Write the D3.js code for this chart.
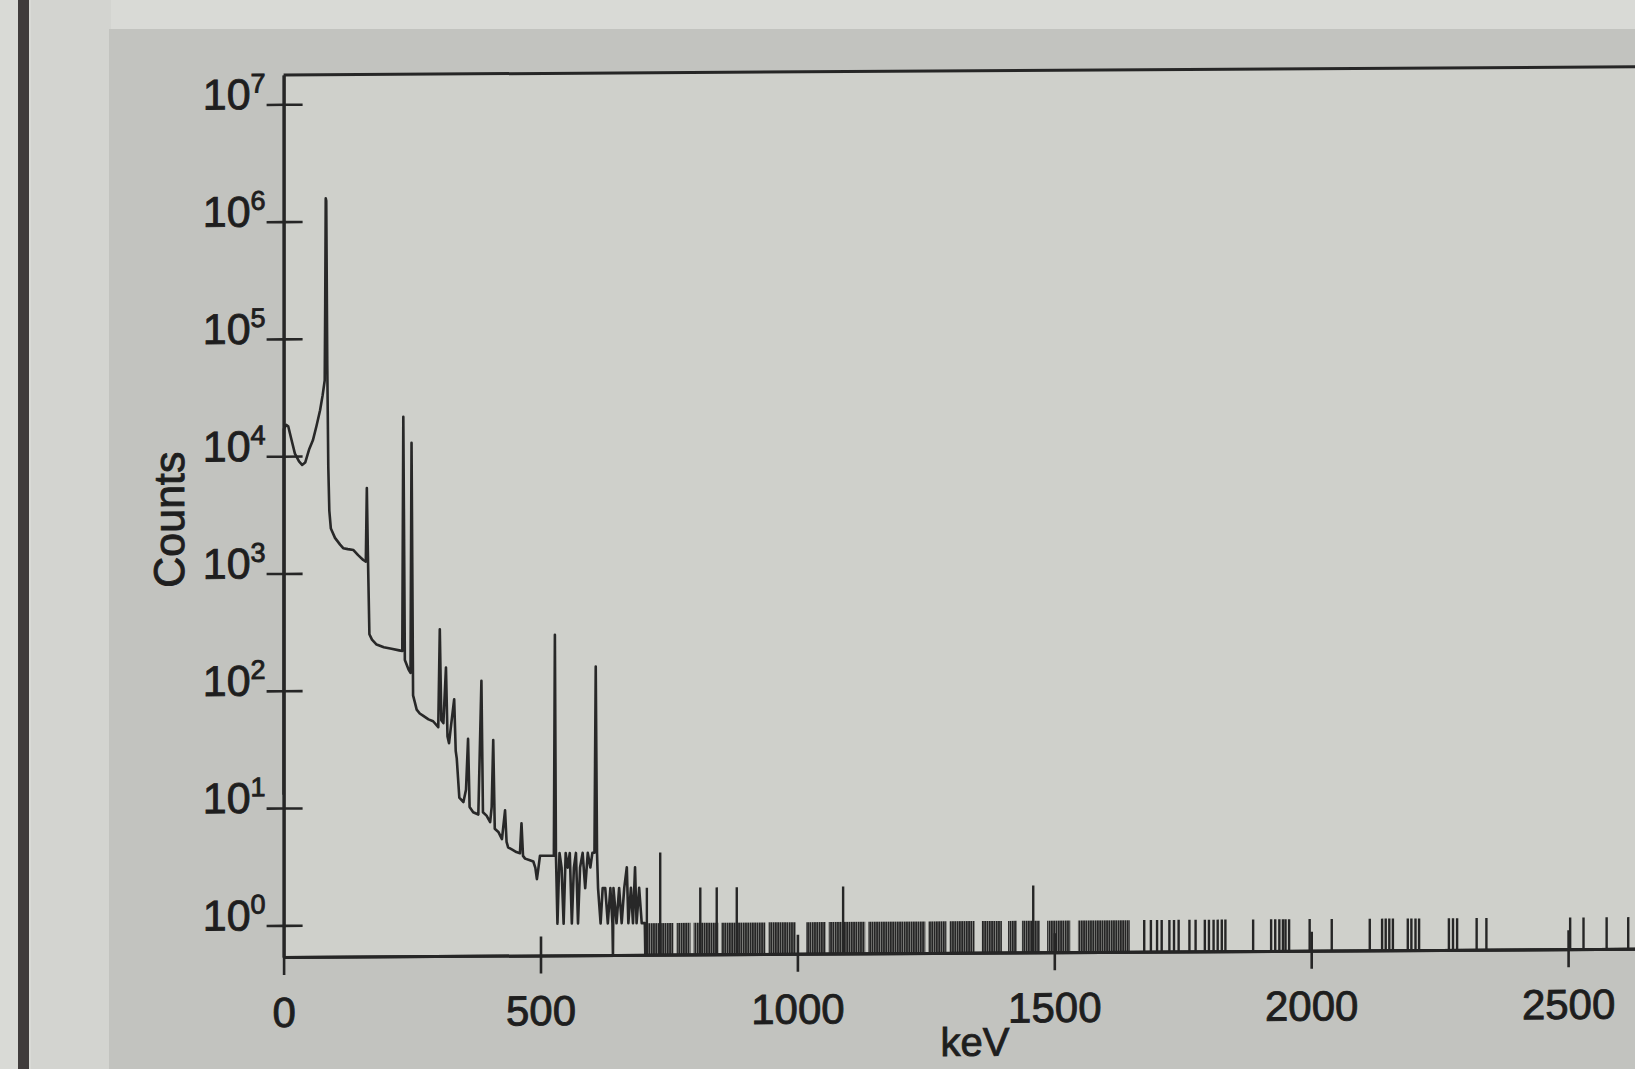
<!DOCTYPE html>
<html><head><meta charset="utf-8">
<script src="https://cdn.jsdelivr.net/npm/d3@7"></script>
<style>
html,body{margin:0;padding:0;background:#d9dad6;overflow:hidden}
text{font-family:"Liberation Sans",Arial,Helvetica,sans-serif;fill:#1e1e1e}
</style>
</head><body>
<svg id="c" width="1635" height="1069"></svg>
<script>
// ---------------- DATA ----------------
const xTickValues = [0, 500, 1000, 1500, 2000, 2500];
const yTickExponents = [0, 1, 2, 3, 4, 5, 6, 7];
const xTitle = "keV";
const yTitle = "Counts";

// Low-energy part of the spectrum: [keV, counts]
const spectrum = [
  [0,13],[0.5,17000],[5,18500],[9,18000],[15,14000],[22,10500],[30,9000],[36,8400],[42,8800],
  [50,11500],[57,13600],[64,18000],[71,24500],[76,33000],[80,44000],[81,200000],[82,1570000],
  [83,1500000],[85,60000],[87,8000],[89,3400],[92,2400],[100,2000],[110,1750],[116,1630],
  [125,1600],[136,1570],[145,1420],[155,1290],[160,1250],[162,5300],[164,1500],[167,300],
  [172,270],[181,245],[195,232],[210,225],[225,218],[231,215],[233,21400],[236,180],[243,150],
  [247,140],[249,12800],[252,90],[255,80],[259,68],[265,63],[272,60],[282,56],[291,54],[301,48],
  [304,328],[307,55],[311,52],[316,155],[319,40],[322,35],[326,50],[332,83],[335,30],[337,26],
  [342,12],[350,11],[355,14],[359,38],[362,10],[369,9],[379,8.6],[385,119],[388,9],[395,8.4],
  [402,7.4],[405,10],[408,37],[411,6.5],[418,6.1],[425,5.3],[431,9.3],[434,5],[437,4.5],[445,4.3],
  [453,4.1],[460,4],[463,7.2],[466,3.8],[470,3.6],[478,3.5],[486,3.4],[490,3],[493,2.4],[496,3],
  [499,3.8],[508,3.8],[518,3.8],[526,3.8],[528,291],[530,4],[533,1],[537,4],[541,3],[545,1],
  [549,4],[553,3],[557,4],[561,1],[565,3],[569,4],[573,1],[577,3],[582,4],[587,2],[592,4],
  [597,3],[601,4],[605,4],[607.5,155],[610,4],[612,2],[617,1],[621,2],[626,2],[631,1],[636,2],
  [640,1],[641,0],[642,2],[648,1],[653,2],[658,1],[663,2],[668,3],[671,1],[676,2],[680,1],
  [684,3],[687,1],[692,2],[697,1],[703,1],[704,0]
];

// Energy ranges (keV) where single counts are packed densely (bins alternate 0 / 1)
const denseBands = [
  [703,759],[765,792],[798,846],[852,938],[944,997],[1017,1055],[1061,1132],[1138,1249],
  [1255,1290],[1296,1345],[1359,1398],[1410,1427],[1437,1472],[1486,1531],[1546,1647]
];

// Isolated single-count bins (keV)
const singleCounts = [
  1675,1688,1700,1709,1724,1733,1742,1763,1775,1793,1801,1810,1818,1826,1833,1887,
  1922,1930,1938,1945,1950,1957,1997,2040,2114,2138,2145,2152,2159,2188,2195,2203,2210,
  2268,2276,2284,2322,2341,2504,2530,2575,2617
];

// Bins with more than one count in the sparse region: [keV, counts]
const multiCounts = [[707,2],[733,4],[811,2],[843,2],[882,2],[1089,2],[1459,2]];

// ---------------- DRAWING ----------------
const W = 1635, H = 1069;
const svg = d3.select("#c");
const padL = 283.6, padB = 957, padT = 75;

const x = d3.scaleLinear().domain([0, 3000]).range([padL, padL + 3000 / 500 * 256.9]);
const y = d3.scaleLog().domain([Math.pow(10, -0.27), Math.pow(10, 7.25)]).range([padB, padT]);
const yv = c => (c <= 0 ? y.range()[0] : y(c));

// screen / backdrop
svg.append("rect").attr("width", W).attr("height", H).attr("fill", "#d9dad6");
svg.append("rect").attr("x", 31).attr("y", 0).attr("width", 80).attr("height", H).attr("fill", "#d3d4d0");
svg.append("rect").attr("x", 18).attr("y", 0).attr("width", 11).attr("height", H).attr("fill", "#403c3c");
svg.append("rect").attr("x", 109).attr("y", 29).attr("width", W).attr("height", H).attr("fill", "#c2c3bf");

const defs = svg.append("defs");
defs.append("pattern").attr("id", "hatch").attr("patternUnits", "userSpaceOnUse")
  .attr("width", 2.3).attr("height", 20)
  .append("rect").attr("width", 1.9).attr("height", 20).attr("fill", "#252525");

const g = svg.append("g")
  .attr("transform", `translate(${padL},${padB}) skewY(-0.35) translate(${-padL},${-padB})`);

// plot area
g.append("rect").attr("x", padL).attr("y", padT).attr("width", x(3000) - padL).attr("height", padB - padT)
  .attr("fill", "#cfd0cb");

// dense single-count bands
g.append("g").selectAll("rect").data(denseBands).join("rect")
  .attr("x", d => x(d[0])).attr("width", d => x(d[1]) - x(d[0]))
  .attr("y", y(1)).attr("height", padB - y(1))
  .attr("fill", "url(#hatch)");

// isolated spikes
const spikes = singleCounts.map(e => [e, 1]).concat(multiCounts);
g.append("g").selectAll("line").data(spikes).join("line")
  .attr("x1", d => x(d[0])).attr("x2", d => x(d[0]))
  .attr("y1", padB).attr("y2", d => y(d[1]))
  .attr("stroke", "#262626").attr("stroke-width", 2.4);

// zero-count baseline
g.append("line").attr("x1", x(704)).attr("x2", x(3000)).attr("y1", padB).attr("y2", padB)
  .attr("stroke", "#262626").attr("stroke-width", 2);

// spectrum line
const line = d3.line().x(d => x(d[0])).y(d => yv(d[1]));
g.append("path").datum(spectrum).attr("d", line)
  .attr("fill", "none").attr("stroke", "#282828").attr("stroke-width", 2.6)
  .attr("stroke-linejoin", "round");

// frame top
g.append("line").attr("x1", padL).attr("x2", x(3000)).attr("y1", padT).attr("y2", padT)
  .attr("stroke", "#262626").attr("stroke-width", 3);

// axes
const yVals = yTickExponents.map(k => Math.pow(10, k));
const yAxisL = g.append("g").attr("transform", `translate(${padL},0)`)
  .call(d3.axisLeft(y).tickValues(yVals).tickSizeInner(17).tickSizeOuter(0).tickPadding(1));
g.append("g").attr("transform", `translate(${padL},0)`)
  .call(d3.axisRight(y).tickValues(yVals).tickSizeInner(19).tickSizeOuter(0).tickFormat(""));
yAxisL.selectAll(".tick text").each(function (d) {
  const t = d3.select(this).text("").attr("dy", "0.42em");
  t.append("tspan").attr("font-size", 43).text("10");
  t.append("tspan").attr("font-size", 27).attr("dy", "-0.62em").text(Math.round(Math.log10(d)));
});

const xAxisB = g.append("g").attr("transform", `translate(0,${padB})`)
  .call(d3.axisBottom(x).tickValues(xTickValues).tickFormat(d3.format("d"))
    .tickSizeInner(18).tickSizeOuter(0).tickPadding(22));
g.append("g").attr("transform", `translate(0,${padB})`)
  .call(d3.axisTop(x).tickValues(xTickValues.filter(v => v > 0)).tickSizeInner(19).tickSizeOuter(0).tickFormat(""));
xAxisB.selectAll(".tick text").attr("font-size", 42);

g.selectAll(".domain").attr("stroke", "#262626").attr("stroke-width", 3);
g.selectAll(".tick line").attr("stroke", "#262626").attr("stroke-width", 2.6);
g.selectAll(".tick text").style("fill", "#1e1e1e").style("stroke", "#1e1e1e").style("stroke-width", 0.9)
  .attr("font-family", "Liberation Sans, Arial, sans-serif");

// titles
g.append("text").attr("x", 975).attr("y", 1060).attr("text-anchor", "middle").attr("font-size", 40)
  .style("stroke", "#1e1e1e").style("stroke-width", 0.9).text(xTitle);
g.append("text").attr("transform", "translate(184,519) rotate(-90)").attr("text-anchor", "middle")
  .attr("font-size", 43).style("stroke", "#1e1e1e").style("stroke-width", 0.9).text(yTitle);
</script>
</body></html>
